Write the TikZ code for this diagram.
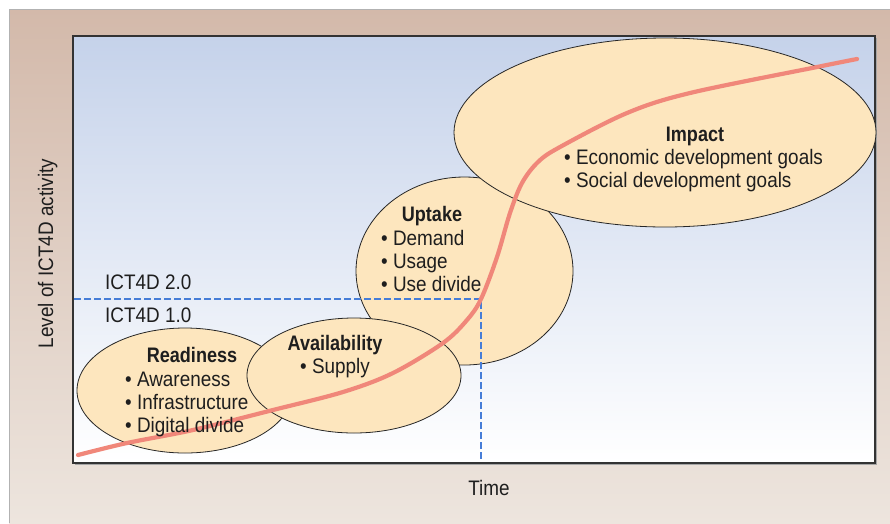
\documentclass[tikz,border=0pt]{standalone}
\usepackage{fontspec}
\setmainfont{Liberation Sans}[FakeStretch=0.9, BoldFeatures={FakeStretch=0.86}]
\usetikzlibrary{shapes.geometric}
\definecolor{outtop}{RGB}{211,185,170}
\definecolor{outbot}{RGB}{237,229,222}
\definecolor{intop}{RGB}{197,210,234}
\definecolor{bubble}{RGB}{253,230,190}
\definecolor{curvec}{RGB}{240,135,122}
\definecolor{guideblue}{RGB}{70,125,215}
\definecolor{txt}{RGB}{30,30,30}
\begin{document}
\begin{tikzpicture}[x=1pt,y=-1pt,
  bubblenode/.style={ellipse, draw=black!85, line width=0.8pt, fill=bubble, inner sep=0pt, outer sep=0pt},
  lbl/.style={inner sep=0pt, text=txt, font=\fontsize{21}{24}\selectfont},
  ttl/.style={lbl, font=\fontsize{21}{24}\selectfont\bfseries, anchor=base},
  item/.style={lbl, anchor=base west},
  guide/.style={color=guideblue, line width=1.3pt, dash pattern=on 7pt off 3pt}]
\useasboundingbox (0,0) rectangle (890,523);
\fill[white] (0,0) rectangle (890,523);
\shade[top color=outtop, bottom color=outbot] (9,9) rectangle (890,523);
\draw[black!30, line width=1pt] (9,523) -- (9,9) -- (890,9);
% plot area
\fill[black!35] (74.5,37.5) rectangle (876.5,464.5);
\shade[top color=intop, bottom color=white] (73,36) rectangle (875,463);
\draw[black!80, line width=1.2pt] (73,36) rectangle (875,463);
% bubbles
\node[bubblenode, minimum width=216pt, minimum height=125pt] (readiness) at (185,390.5) {};
\node[bubblenode, minimum width=217pt, minimum height=188pt] (uptake) at (464.5,271) {};
\node[bubblenode, minimum width=214pt, minimum height=115pt] (availability) at (354,375.5) {};
\node[bubblenode, minimum width=422pt, minimum height=189pt] (impact) at (665,132.5) {};
% guides
\coordinate (corner) at (481,299);
\coordinate (yaxis) at (74,299);
\coordinate (xaxis) at (481,462);
\draw[guide] (yaxis) -- (corner) -- (xaxis);
% curve
\draw[curvec, line width=4.2pt, line cap=round] plot[smooth, tension=0.55] coordinates {
 (78,455) (127,443) (193,430) (273,410) (343,392) (393,373) (443,343) (467,320)
 (481,299) (497,257) (510,213) (522,183) (538,162) (560,147) (627,113) (690,93) (817,67) (857,59)};
% texts
\node[item] (ict2) at (105,289.3) {ICT4D 2.0};
\node[item] (ict1) at (105,322.7) {ICT4D 1.0};
\node[ttl] (tread) at (192,362.7) {Readiness};
\foreach \t [count=\i] in {Awareness, Infrastructure, Digital divide}
  \node[item] (r\i) at (125,{386+23.2*(\i-1)}) {\textbullet\ \t};
\node[ttl] (tavail) at (335,350) {Availability};
\node[item] (a1) at (300,373.3) {\textbullet\ Supply};
\node[ttl] (tup) at (432,221.7) {Uptake};
\foreach \t [count=\i] in {Demand, Usage, Use divide}
  \node[item] (u\i) at (381,{245+23.2*(\i-1)}) {\textbullet\ \t};
\node[ttl] (timp) at (695,141) {Impact};
\foreach \t [count=\i] in {Economic development goals, Social development goals}
  \node[item] (m\i) at (564,{164.3+23.4*(\i-1)}) {\textbullet\ \t};
\node[lbl, anchor=base] (time) at (489,495) {Time};
\node[lbl, anchor=base, rotate=90] (level) at (53,253.5) {Level of ICT4D activity};
\end{tikzpicture}
\end{document}
